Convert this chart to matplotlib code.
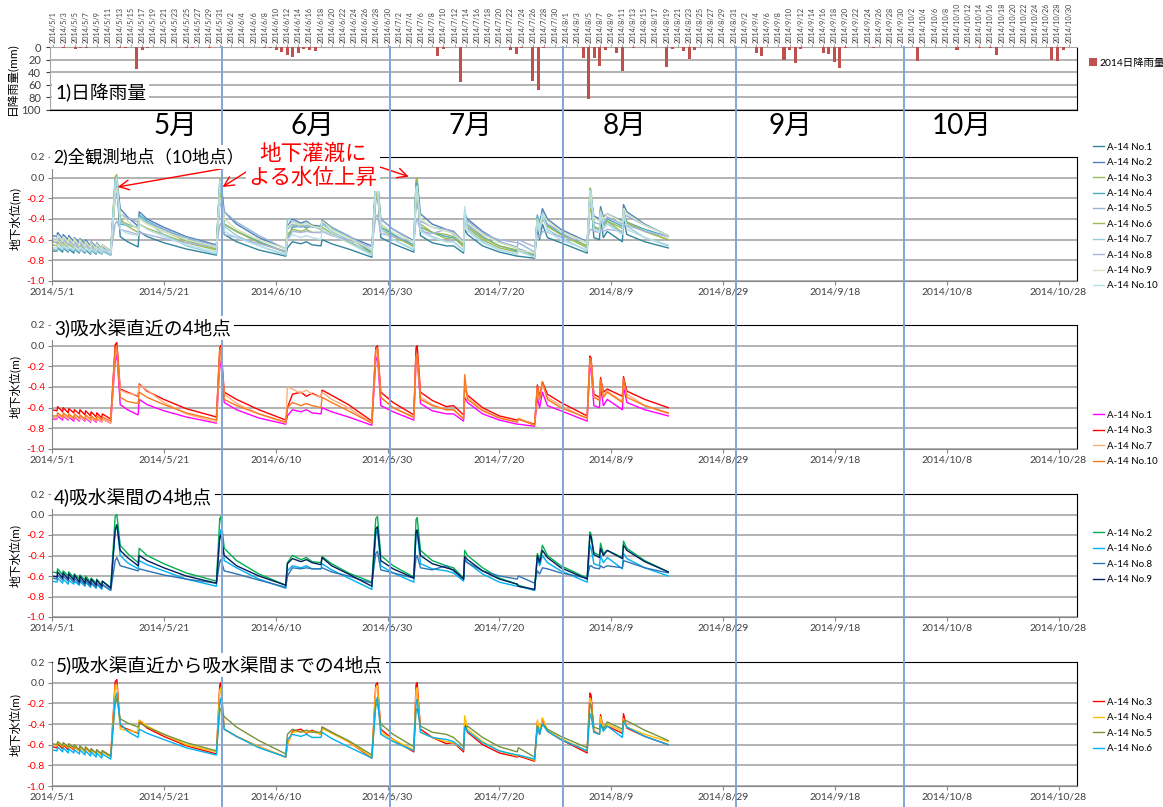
import numpy as np
import pandas as pd
import matplotlib
matplotlib.use('Agg')
import matplotlib.pyplot as plt
from matplotlib.lines import Line2D

plt.rcParams['font.family'] = ['Lato', 'Noto Sans CJK JP', 'DejaVu Sans']

W, H = 1163, 807
START = pd.Timestamp('2014-05-01')

# 日降雨量 (mm) 雨のあった日だけ
rain_dates = ['5/3', '5/5', '5/6', '5/7', '5/13', '5/14', '5/16', '5/17', '5/18', '5/25',
              '5/26', '5/29', '6/8', '6/9', '6/10', '6/11', '6/12', '6/13', '6/14', '6/15',
              '6/16', '6/17', '7/9', '7/10', '7/13', '7/22', '7/23', '7/24', '7/26', '7/27',
              '7/28', '8/4', '8/5', '8/6', '8/7', '8/8', '8/10', '8/11', '8/13', '8/19',
              '8/20', '8/22', '8/23', '8/24', '9/4', '9/5', '9/9', '9/10', '9/11', '9/12',
              '9/16', '9/17', '9/18', '9/19', '9/20', '9/25', '10/3', '10/10', '10/14', '10/16',
              '10/17', '10/27', '10/28', '10/29']
rain_mm = [2, 3, 2, 1, 1, 2, 35, 4, 2, 1,
           1, 1, 1, 2, 5, 8, 12, 16, 10, 3,
           5, 6, 14, 3, 55, 5, 11, 1, 54, 69,
           1, 18, 83, 17, 30, 4, 10, 38, 1, 31,
           3, 7, 19, 5, 10, 15, 20, 5, 25, 3,
           10, 11, 24, 34, 1, 1, 23, 5, 2, 1,
           12, 20, 23, 4]

# 地下水位 (m)  t_days = 2014/5/1からの日数
t_days = [0, 0.9, 1.0, 1.9, 2.0, 2.9, 3.0, 3.9, 4.0, 4.9, 5.0, 5.9, 6.0, 6.9, 7.0, 7.9, 8.0, 8.9, 9.0,
          10.5, 11.3, 11.6, 12.2, 13.5, 15.4, 15.6, 17, 20, 24,
          29.4, 30.0, 30.2, 30.8, 33, 37, 41.8, 42.1, 43, 44.5,
          45.5, 46.5, 48.1, 48.3, 50, 53, 57.2, 57.9, 58.2, 58.8,
          61, 64.7, 65.1, 65.3, 65.9, 68, 70.5, 71.8, 73.6, 73.8,
          74.3, 77, 80, 83.2, 83.4, 86.3, 86.8, 87.2, 87.7, 88.6,
          91, 95.7, 96.2, 96.4, 96.9, 97.9, 98.1, 98.6, 99.3, 102.0,
          102.2, 102.8, 106, 110.2]

no1 = [-0.71, -0.71, -0.68, -0.72, -0.68, -0.72, -0.69, -0.73, -0.69, -0.73, -0.69, -0.73, -0.70, -0.74, -0.70, -0.74, -0.71, -0.74, -0.71,
       -0.75, -0.15, -0.08, -0.57, -0.62, -0.67, -0.52, -0.57, -0.63, -0.69,
       -0.75, -0.20, -0.14, -0.55, -0.62, -0.70, -0.76, -0.68, -0.62, -0.64,
       -0.62, -0.65, -0.66, -0.60, -0.64, -0.69, -0.77, -0.15, -0.10, -0.58,
       -0.64, -0.72, -0.15, -0.12, -0.56, -0.63, -0.66, -0.66, -0.73, -0.50,
       -0.55, -0.66, -0.72, -0.76, -0.76, -0.78, -0.50, -0.60, -0.45, -0.58,
       -0.63, -0.73, -0.20, -0.22, -0.58, -0.60, -0.40, -0.58, -0.52, -0.62,
       -0.40, -0.55, -0.62, -0.68]
no2 = [-0.56, -0.57, -0.53, -0.59, -0.55, -0.60, -0.56, -0.62, -0.58, -0.63, -0.59, -0.64, -0.60, -0.66, -0.62, -0.67, -0.63, -0.69, -0.65,
       -0.71, -0.02, 0.00, -0.30, -0.38, -0.47, -0.33, -0.40, -0.48, -0.57,
       -0.65, -0.04, -0.02, -0.33, -0.45, -0.58, -0.69, -0.47, -0.40, -0.44,
       -0.42, -0.46, -0.47, -0.41, -0.48, -0.57, -0.66, -0.04, -0.02, -0.40,
       -0.50, -0.61, -0.05, -0.03, -0.35, -0.45, -0.50, -0.52, -0.62, -0.35,
       -0.40, -0.52, -0.62, -0.68, -0.69, -0.74, -0.38, -0.45, -0.30, -0.40,
       -0.50, -0.62, -0.17, -0.19, -0.37, -0.40, -0.28, -0.38, -0.35, -0.42,
       -0.26, -0.33, -0.45, -0.56]
no3 = [-0.62, -0.63, -0.59, -0.64, -0.60, -0.65, -0.61, -0.65, -0.62, -0.66, -0.62, -0.67, -0.63, -0.68, -0.64, -0.69, -0.65, -0.70, -0.66,
       -0.71, 0.01, 0.03, -0.42, -0.45, -0.49, -0.37, -0.44, -0.52, -0.61,
       -0.69, -0.02, 0.00, -0.45, -0.52, -0.62, -0.72, -0.60, -0.47, -0.45,
       -0.49, -0.46, -0.50, -0.43, -0.48, -0.57, -0.73, -0.02, 0.00, -0.45,
       -0.55, -0.67, -0.02, 0.00, -0.45, -0.53, -0.59, -0.58, -0.67, -0.40,
       -0.48, -0.60, -0.68, -0.72, -0.71, -0.76, -0.38, -0.50, -0.35, -0.47,
       -0.55, -0.68, -0.10, -0.12, -0.47, -0.50, -0.31, -0.45, -0.42, -0.49,
       -0.30, -0.44, -0.52, -0.60]
no4 = [-0.60, -0.61, -0.58, -0.62, -0.59, -0.63, -0.60, -0.64, -0.61, -0.66, -0.62, -0.67, -0.63, -0.68, -0.65, -0.69, -0.66, -0.70, -0.67,
       -0.72, -0.03, -0.02, -0.45, -0.46, -0.48, -0.36, -0.42, -0.50, -0.60,
       -0.67, -0.07, -0.05, -0.45, -0.52, -0.62, -0.72, -0.60, -0.48, -0.47,
       -0.48, -0.47, -0.50, -0.44, -0.49, -0.57, -0.72, -0.05, -0.03, -0.48,
       -0.55, -0.65, -0.07, -0.05, -0.48, -0.53, -0.57, -0.58, -0.65, -0.32,
       -0.45, -0.57, -0.66, -0.71, -0.70, -0.75, -0.36, -0.47, -0.34, -0.46,
       -0.54, -0.66, -0.15, -0.17, -0.48, -0.50, -0.33, -0.46, -0.40, -0.47,
       -0.35, -0.43, -0.50, -0.57]
no5 = [-0.59, -0.60, -0.57, -0.61, -0.58, -0.62, -0.59, -0.63, -0.60, -0.65, -0.61, -0.66, -0.62, -0.67, -0.64, -0.68, -0.65, -0.69, -0.66,
       -0.71, -0.20, -0.15, -0.35, -0.39, -0.43, -0.39, -0.43, -0.50, -0.58,
       -0.66, -0.28, -0.25, -0.33, -0.43, -0.56, -0.69, -0.50, -0.45, -0.48,
       -0.46, -0.48, -0.48, -0.43, -0.48, -0.56, -0.70, -0.22, -0.20, -0.40,
       -0.50, -0.62, -0.27, -0.25, -0.42, -0.48, -0.50, -0.53, -0.62, -0.45,
       -0.42, -0.53, -0.62, -0.67, -0.63, -0.72, -0.42, -0.48, -0.40, -0.45,
       -0.52, -0.63, -0.20, -0.22, -0.43, -0.45, -0.40, -0.45, -0.38, -0.45,
       -0.37, -0.37, -0.46, -0.56]
no6 = [-0.65, -0.66, -0.62, -0.67, -0.63, -0.68, -0.64, -0.68, -0.65, -0.69, -0.65, -0.70, -0.66, -0.71, -0.67, -0.72, -0.68, -0.73, -0.69,
       -0.74, -0.15, -0.10, -0.40, -0.47, -0.53, -0.45, -0.49, -0.55, -0.63,
       -0.70, -0.20, -0.15, -0.45, -0.52, -0.63, -0.72, -0.55, -0.50, -0.52,
       -0.50, -0.53, -0.53, -0.48, -0.54, -0.62, -0.73, -0.20, -0.14, -0.50,
       -0.57, -0.66, -0.20, -0.16, -0.48, -0.53, -0.55, -0.57, -0.65, -0.43,
       -0.47, -0.58, -0.66, -0.70, -0.70, -0.74, -0.42, -0.50, -0.40, -0.47,
       -0.55, -0.66, -0.30, -0.32, -0.48, -0.50, -0.40, -0.47, -0.42, -0.53,
       -0.38, -0.43, -0.52, -0.60]
no7 = [-0.69, -0.70, -0.67, -0.70, -0.67, -0.71, -0.68, -0.71, -0.68, -0.72, -0.69, -0.72, -0.69, -0.73, -0.70, -0.73, -0.70, -0.74, -0.71,
       -0.75, -0.08, -0.05, -0.43, -0.46, -0.48, -0.38, -0.43, -0.55, -0.66,
       -0.74, -0.12, -0.10, -0.47, -0.56, -0.66, -0.75, -0.40, -0.42, -0.46,
       -0.43, -0.47, -0.50, -0.45, -0.52, -0.60, -0.75, -0.07, -0.05, -0.50,
       -0.60, -0.70, -0.12, -0.10, -0.50, -0.57, -0.62, -0.62, -0.70, -0.36,
       -0.50, -0.62, -0.70, -0.74, -0.70, -0.77, -0.42, -0.52, -0.38, -0.50,
       -0.58, -0.71, -0.15, -0.17, -0.50, -0.52, -0.34, -0.48, -0.44, -0.54,
       -0.34, -0.47, -0.58, -0.66]
no8 = [-0.62, -0.63, -0.59, -0.64, -0.60, -0.65, -0.61, -0.66, -0.62, -0.68, -0.63, -0.69, -0.64, -0.70, -0.66, -0.71, -0.67, -0.72, -0.68,
       -0.74, -0.45, -0.42, -0.50, -0.52, -0.55, -0.53, -0.55, -0.59, -0.63,
       -0.67, -0.46, -0.44, -0.55, -0.58, -0.64, -0.71, -0.60, -0.52, -0.53,
       -0.52, -0.53, -0.53, -0.52, -0.56, -0.60, -0.67, -0.38, -0.36, -0.54,
       -0.57, -0.62, -0.42, -0.40, -0.52, -0.54, -0.50, -0.55, -0.63, -0.45,
       -0.47, -0.55, -0.60, -0.63, -0.60, -0.67, -0.55, -0.58, -0.52, -0.53,
       -0.57, -0.62, -0.50, -0.50, -0.52, -0.53, -0.50, -0.52, -0.50, -0.52,
       -0.45, -0.46, -0.52, -0.57]
no9 = [-0.60, -0.61, -0.56, -0.62, -0.57, -0.63, -0.58, -0.64, -0.59, -0.66, -0.60, -0.67, -0.62, -0.68, -0.63, -0.69, -0.64, -0.70, -0.65,
       -0.72, -0.15, -0.10, -0.35, -0.42, -0.50, -0.40, -0.45, -0.52, -0.60,
       -0.67, -0.22, -0.20, -0.40, -0.50, -0.60, -0.69, -0.48, -0.43, -0.46,
       -0.44, -0.47, -0.49, -0.42, -0.50, -0.58, -0.70, -0.14, -0.12, -0.45,
       -0.53, -0.62, -0.17, -0.15, -0.40, -0.48, -0.52, -0.54, -0.63, -0.41,
       -0.44, -0.55, -0.63, -0.68, -0.70, -0.73, -0.40, -0.47, -0.35, -0.42,
       -0.52, -0.63, -0.20, -0.22, -0.39, -0.42, -0.33, -0.40, -0.35, -0.43,
       -0.30, -0.35, -0.46, -0.56]
no10 = [-0.68, -0.68, -0.65, -0.69, -0.65, -0.69, -0.66, -0.70, -0.66, -0.70, -0.67, -0.71, -0.67, -0.71, -0.68, -0.72, -0.68, -0.72, -0.69,
        -0.73, -0.03, 0.00, -0.50, -0.54, -0.56, -0.45, -0.50, -0.57, -0.65,
        -0.72, -0.04, -0.02, -0.52, -0.58, -0.66, -0.74, -0.60, -0.55, -0.58,
        -0.56, -0.58, -0.60, -0.50, -0.55, -0.63, -0.75, -0.04, -0.02, -0.50,
        -0.60, -0.69, -0.10, -0.08, -0.52, -0.58, -0.62, -0.62, -0.71, -0.28,
        -0.52, -0.63, -0.70, -0.74, -0.71, -0.77, -0.40, -0.52, -0.35, -0.52,
        -0.60, -0.70, -0.12, -0.14, -0.50, -0.53, -0.33, -0.50, -0.45, -0.55,
        -0.32, -0.50, -0.58, -0.65]

gw = {'A-14 No.1': no1, 'A-14 No.2': no2, 'A-14 No.3': no3, 'A-14 No.4': no4, 'A-14 No.5': no5,
      'A-14 No.6': no6, 'A-14 No.7': no7, 'A-14 No.8': no8, 'A-14 No.9': no9, 'A-14 No.10': no10}

# 各グラフの系列と色
p2_series = [('A-14 No.1', '#31859C'), ('A-14 No.2', '#4F81BD'), ('A-14 No.3', '#9BBB59'),
             ('A-14 No.4', '#4BACC6'), ('A-14 No.5', '#95B3D7'), ('A-14 No.6', '#9BBB59'),
             ('A-14 No.7', '#93CDDD'), ('A-14 No.8', '#A9B4DC'), ('A-14 No.9', '#D7E4BD'),
             ('A-14 No.10', '#B7DEE8')]
p3_series = [('A-14 No.1', '#FF00FF'), ('A-14 No.3', '#FF0000'), ('A-14 No.7', '#FFB07A'),
             ('A-14 No.10', '#F7781E')]
p4_series = [('A-14 No.2', '#00B050'), ('A-14 No.6', '#00B0F0'), ('A-14 No.8', '#2E75B6'),
             ('A-14 No.9', '#002060')]
p5_series = [('A-14 No.3', '#FF0000'), ('A-14 No.4', '#FFC000'), ('A-14 No.5', '#77933C'),
             ('A-14 No.6', '#00B0F0')]


def fx(px):
    return px / W


def fy(py):
    return 1 - py / H


fig = plt.figure(figsize=(W / 100, H / 100), dpi=100)


def add_ax(left, top, right, bottom):
    return fig.add_axes([fx(left), fy(bottom), (right - left) / W, (bottom - top) / H])


#1) 日降雨量
rain_idx = pd.date_range('2014-05-01', '2014-10-31')
rain = pd.Series(0.0, index=rain_idx)
for d, v in zip(rain_dates, rain_mm):
    rain[pd.Timestamp('2014/' + d)] = v
rain_x = np.arange(len(rain))

ax0 = add_ax(50, 47, 1077, 110)
bars = ax0.bar(rain_x, rain.values, width=0.55, color='#C0504D', label='2014日降雨量', zorder=3)
ax0.set_xlim(-0.5, len(rain) - 0.5)
ax0.set_ylim(100, 0)
ax0.set_yticks(range(0, 101, 20))
ax0.tick_params(axis='y', labelsize=8, length=3, colors='#404040')
ax0.yaxis.grid(True, color='#A6A6A6', lw=1.2)
ax0.xaxis.tick_top()
ax0.set_xticks(rain_x[::2])
ax0.set_xticklabels([f'{d.year}/{d.month}/{d.day}' for d in rain_idx[::2]],
                    rotation=90, fontsize=5.2, color='#404040')
ax0.tick_params(axis='x', length=2, pad=1, color='#A6A6A6')
ax0.set_ylabel('日降雨量(mm)', fontsize=8.5, labelpad=2)
for s in ['top', 'left']:
    ax0.spines[s].set_color('#A6A6A6')
for s in ['bottom', 'right']:
    ax0.spines[s].set_color('#000000')
fig.legend(handles=[bars], loc='center left', bbox_to_anchor=(fx(1080), fy(63)),
           frameon=False, fontsize=7.5, handlelength=0.7, handleheight=0.7, handletextpad=0.3)

# 地下水位のグラフ
yt = [-1.0, -0.8, -0.6, -0.4, -0.2, 0.0, 0.2]
xt = pd.date_range('2014-05-01', periods=10, freq='20D')
panels = [(157, 281, p2_series, 134), (325, 449, p3_series, 402),
          (494, 617, p4_series, 520), (662, 786, p5_series, 689)]
gw_axes = []
for top, bottom, series, leg_top in panels:
    ax = add_ax(52, top, 1077, bottom)
    lines = []
    for name, col in series:
        ln, = ax.plot(t_days, gw[name], color=col, lw=1.0, label=name)
        lines.append(ln)
    ax.set_xlim(0, 183.3)
    ax.set_ylim(-1.0, 0.2)
    ax.set_yticks(yt)
    labs = ax.set_yticklabels([f'{v:.1f}' for v in yt], fontsize=7.5)
    for v, lab in zip(yt, labs):
        lab.set_color('#FF0000' if v < 0 else '#404040')
    ax.set_xticks([(d - START).days for d in xt])
    ax.set_xticklabels([f'{d.year}/{d.month}/{d.day}' for d in xt], fontsize=7.5, color='#404040')
    ax.tick_params(length=3, color='#868686', pad=2)
    ax.yaxis.grid(True, color='#A6A6A6', lw=1.2)
    ax.set_axisbelow(True)
    for s in ['left', 'bottom']:
        ax.spines[s].set_color('#868686')
    for s in ['top', 'right']:
        ax.spines[s].set_color('#000000')
    ax.set_ylabel('地下水位(m)', fontsize=8.5, labelpad=4)
    fig.legend(handles=lines, loc='upper left', bbox_to_anchor=(fx(1084), fy(leg_top)),
               frameon=False, fontsize=7, handlelength=1.2, handletextpad=0.3, labelspacing=0.66)
    gw_axes.append(ax)

# 月の境界線
month_ends = ['2014-05-31', '2014-06-30', '2014-07-31', '2014-08-31', '2014-09-30']
inv = fig.transFigure.inverted()
for me in month_ends:
    d = (pd.Timestamp(me) - START).days + 0.4
    xf = inv.transform(gw_axes[0].transData.transform((d, 0)))[0]
    fig.add_artist(Line2D([xf, xf], [0, fy(47)], color='#7EA6D8', lw=1.4, zorder=2))

# 月ラベル
months = [('5月', 175), ('6月', 312), ('7月', 470), ('8月', 625), ('9月', 790), ('10月', 962)]
for m, xpx in months:
    fig.text(fx(xpx), fy(126), m, fontsize=20, ha='center', va='center', zorder=3)

# タイトル
box = dict(facecolor='white', edgecolor='none', pad=2)
titles = [('1)日降雨量', 55, 93, 13.5), ('2)全観測地点（10地点）', 53, 157, 12.5),
          ('3)吸水渠直近の4地点', 54, 328, 13.5), ('4)吸水渠間の4地点', 54, 497, 13.5),
          ('5)吸水渠直近から吸水渠間までの4地点', 56, 665, 13.5)]
for txt, xpx, ypx, fs in titles:
    fig.text(fx(xpx), fy(ypx), txt, fontsize=fs, ha='left', va='center', bbox=box, zorder=3)

# 注記
ax2 = gw_axes[0]
fig.text(fx(313), fy(166), '地下灌漑に\nよる水位上昇', color='#FF0000', fontsize=15.5,
         ha='center', va='center', linespacing=1.25, bbox=box, zorder=3)
arrows = [((11.75, -0.09), (255, 163)), ((30.5, -0.09), (257, 165)),
          ((57.2, 0.04), (367, 163)), ((63.8, 0.01), (368, 163))]
for xy, (sx, sy) in arrows:
    ax2.annotate('', xy=xy, xycoords='data', xytext=(fx(sx), fy(sy)), textcoords='figure fraction',
                 arrowprops=dict(arrowstyle='->,head_length=0.7,head_width=0.35', color='#FF0000',
                                 lw=1, shrinkA=0, shrinkB=0), annotation_clip=False)

fig.savefig('out.png', dpi=100)
